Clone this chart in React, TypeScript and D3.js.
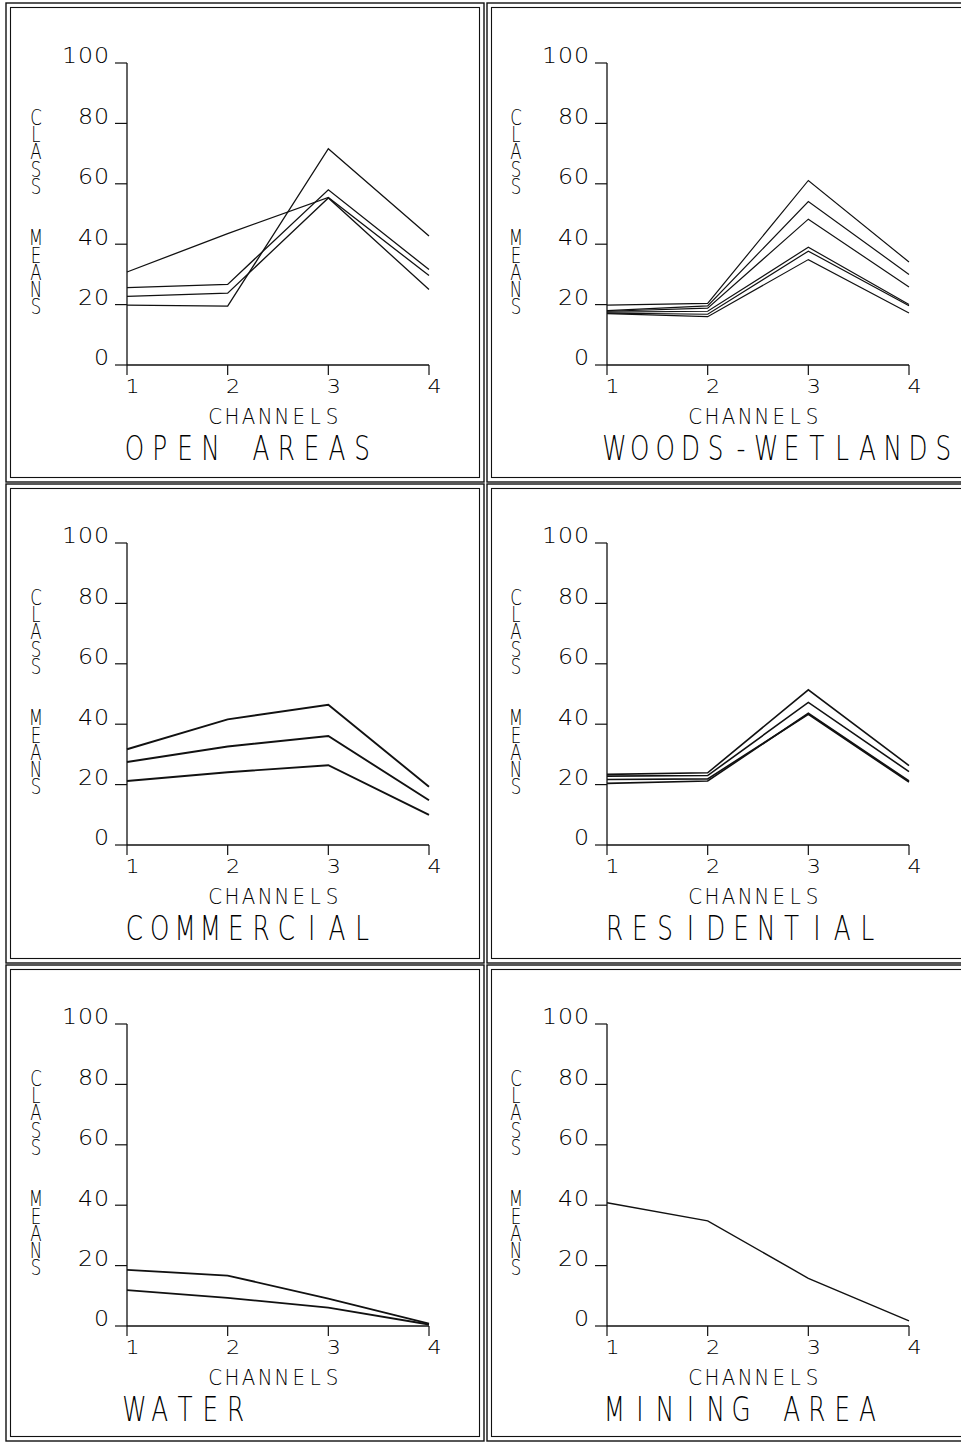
import React from "react";
import * as d3 from "d3";

const channels = [1, 2, 3, 4];
const yTicks = [0, 20, 40, 60, 80, 100];

const openAreas = [
  [30.8, 43.5, 55.5, 29.6],
  [25.6, 26.7, 58.0, 31.6],
  [22.7, 23.8, 55.3, 25.0],
  [19.8, 19.5, 71.6, 42.7],
];
const woodsWetlands = [
  [19.8, 20.4, 61.1, 34.1],
  [18.0, 19.6, 54.1, 30.0],
  [17.8, 18.8, 48.3, 25.8],
  [17.5, 17.8, 39.0, 20.0],
  [17.2, 16.8, 37.7, 19.6],
  [17.0, 16.0, 34.9, 17.2],
];
const commercial = [
  [31.7, 41.6, 46.4, 19.3],
  [27.5, 32.6, 36.1, 14.8],
  [21.2, 24.1, 26.4, 10.0],
];
const residential = [
  [23.4, 23.9, 51.4, 26.3],
  [22.8, 23.0, 47.2, 24.3],
  [21.7, 21.9, 43.3, 20.8],
  [20.4, 21.2, 43.6, 21.2],
];
const water = [
  [18.6, 16.7, 9.1, 0.8],
  [11.9, 9.3, 6.1, 0.5],
];
const miningArea = [[40.8, 34.8, 15.8, 1.7]];

const titles = ["OPEN AREAS", "WOODS-WETLANDS", "COMMERCIAL", "RESIDENTIAL", "WATER", "MINING AREA"];
const panelSeries = [openAreas, woodsWetlands, commercial, residential, water, miningArea];
const panelLineWidths = [1.3, 1.2, 1.9, 1.6, 1.8, 1.4];
const xAxisTitle = "CHANNELS";
const yAxisTitle = "CLASS  MEANS";

const FONT = "'DejaVu Sans', Roboto, sans-serif";
const COL_OFF = [0, 480];
const ROW_OFF = [0, 480, 961];

type STProps = {
  text: string;
  x: number;
  y: number;
  pitch: number;
  gw: number;
  cap: number;
  sx: number;
  anchor?: "start" | "end";
  weight?: number;
};

// fixed-pitch, horizontally condensed text drawn as one <text> element
function StrokeText({ text, x, y, pitch, gw, cap, sx, anchor = "start", weight = 200 }: STProps) {
  const n = text.length;
  const start = anchor === "start" ? x : x - ((n - 1) * pitch + gw);
  const xs = text.split("").map((_, i) => ((start + gw / 2 + i * pitch) / sx).toFixed(2));
  return (
    <text
      transform={`scale(${sx},1)`}
      x={xs.join(" ")}
      y={y}
      textAnchor="middle"
      fontFamily={FONT}
      fontWeight={weight}
      fontSize={cap / 0.729}
      fill="#000"
      style={{ whiteSpace: "pre" }}
    >
      {text}
    </text>
  );
}

function VerticalText({ text, cx, y0, pitch, cap, sx }: { text: string; cx: number; y0: number; pitch: number; cap: number; sx: number }) {
  const chars = text.split("");
  const ys = chars.map((_, i) => (y0 + i * pitch).toFixed(2));
  const xs = chars.map(() => (cx / sx).toFixed(2));
  return (
    <text
      transform={`scale(${sx},1)`}
      x={xs.join(" ")}
      y={ys.join(" ")}
      textAnchor="middle"
      fontFamily={FONT}
      fontWeight={300}
      fontSize={cap / 0.729}
      fill="#000"
      style={{ whiteSpace: "pre" }}
    >
      {text}
    </text>
  );
}

function Panel({ idx }: { idx: number }) {
  const col = idx % 2;
  const row = Math.floor(idx / 2);
  const dx = COL_OFF[col];
  const dy = ROW_OFF[row];
  const x = d3.scaleLinear().domain([1, 4]).range([127, 429]);
  const y = d3.scaleLinear().domain([0, 100]).range([365, 63]);
  const line = d3
    .line<number>()
    .x((_, i) => x(channels[i]))
    .y((d) => y(d));
  const series = panelSeries[idx];
  return (
    <g transform={`translate(${dx},${dy})`}>
      <line x1={x(1)} x2={x(1)} y1={y(100)} y2={y(0)} stroke="#111" strokeWidth={1.3} />
      <line x1={x(1)} x2={x(4)} y1={y(0)} y2={y(0)} stroke="#111" strokeWidth={1.5} />
      {yTicks.map((t) => (
        <g key={t}>
          <line x1={x(1) - 12} x2={x(1)} y1={y(t)} y2={y(t)} stroke="#111" strokeWidth={1.2} />
          <StrokeText text={String(t)} x={108} y={y(t) + 0.5} pitch={16} gw={13} cap={15} sx={1.15} anchor="end" />
        </g>
      ))}
      {channels.map((c) => (
        <g key={c}>
          <line x1={x(c)} x2={x(c)} y1={y(0)} y2={y(0) + 10} stroke="#111" strokeWidth={1.2} />
          <StrokeText text={String(c)} x={x(c)} y={393} pitch={12} gw={11} cap={14.5} sx={1.12} />
        </g>
      ))}
      <StrokeText text={xAxisTitle} x={209} y={424} pitch={16.7} gw={12.3} cap={15.7} sx={0.92} />
      <VerticalText text={yAxisTitle} cx={36} y0={125} pitch={17.2} cap={15.5} sx={0.78} />
      <StrokeText text={titles[idx]} x={126} y={460} pitch={25.3} gw={17} cap={25} sx={0.72} />
      {series.map((s, i) => (
        <path key={i} d={line(s) || ""} fill="none" stroke="#111" strokeWidth={panelLineWidths[idx]} strokeLinejoin="miter" />
      ))}
    </g>
  );
}

function Frames() {
  const colsX = [
    [6, 484],
    [487, 975],
  ];
  const rowsY = [
    [3, 482],
    [484, 963],
    [965, 1441],
  ];
  const out: React.ReactNode[] = [];
  colsX.forEach(([x0, x1], ci) =>
    rowsY.forEach(([y0, y1], ri) => {
      out.push(
        <rect key={`o${ci}${ri}`} x={x0} y={y0} width={x1 - x0} height={y1 - y0} fill="none" stroke="#111" strokeWidth={1.4} />
      );
      out.push(
        <rect key={`i${ci}${ri}`} x={x0 + 4.5} y={y0 + 4.5} width={x1 - x0 - 9} height={y1 - y0 - 9} fill="none" stroke="#111" strokeWidth={1.1} />
      );
    })
  );
  return <g>{out}</g>;
}

export default function App() {
  return (
    <svg
      width={961}
      height={1443}
      viewBox="0 0 961 1443"
      style={{ position: "absolute", left: 0, top: 0, background: "#fff" }}
    >
      <rect x={0} y={0} width={961} height={1443} fill="#fff" />
      <Frames />
      {titles.map((_, i) => (
        <Panel key={i} idx={i} />
      ))}
    </svg>
  );
}
